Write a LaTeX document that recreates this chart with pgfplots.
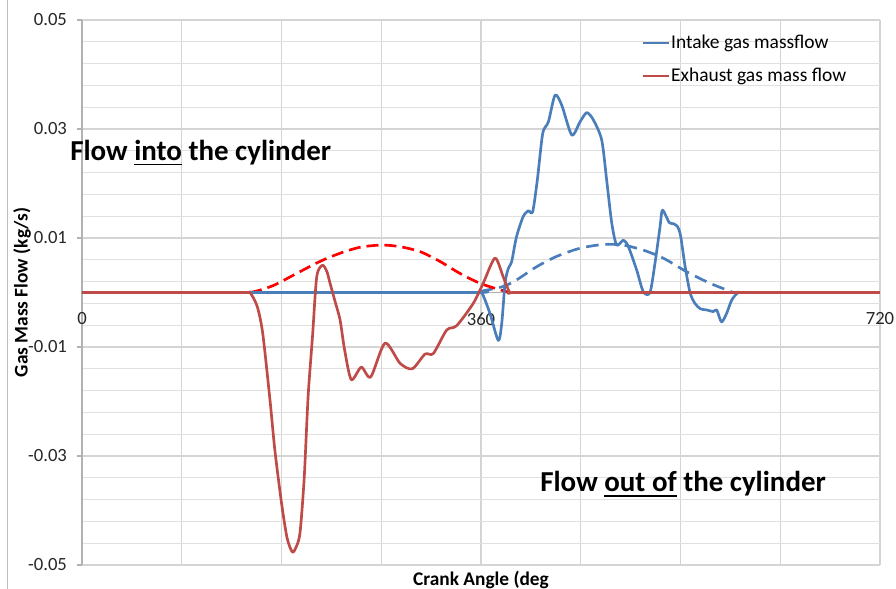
\documentclass[border=0pt]{standalone}
\usepackage{fontspec}
\setmainfont{Carlito}
\usepackage{pgfplots}
\pgfplotsset{compat=1.18}
\definecolor{intake}{HTML}{4A7EBB}
\definecolor{exhaust}{HTML}{BE4B48}
\newcommand\ul[1]{\setbox0\hbox{#1}\rlap{\rule[-3.6pt]{\wd0}{1.3pt}}\box0\relax}

\begin{document}
\begin{tikzpicture}
% picture frame: 896 x 589 px at 0.75pt per px, axis box at (82,20)-(880,565)
\path[use as bounding box] (-61.5pt,-18pt) rectangle (610.5pt,423.75pt);
\draw[black!25, line width=0.75pt] (-55.5pt,-18pt) -- (-55.5pt,423.75pt);
\begin{axis}[
  at={(0pt,0pt)}, anchor=south west,
  scale only axis, width=598.5pt, height=408.75pt,
  xmin=0, xmax=720, ymin=-0.05, ymax=0.05,
  axis x line*=middle, axis y line*=left,
  hide obscured x ticks=false, hide obscured y ticks=false,
  scaled y ticks=false, scaled x ticks=false,
  x axis line style={black!30, line width=0.8pt},
  y axis line style={black!30, line width=1.2pt},
  xtick={0,90,...,720}, xticklabels={0,,,,360,,,,720},
  ytick={-0.05,-0.03,-0.01,0.01,0.03,0.05},
  yticklabels={-0.05,-0.03,-0.01,0.01,0.03,0.05},
  minor ytick={-0.046,-0.042,-0.038,-0.034,-0.026,-0.022,-0.018,-0.014,
    -0.006,-0.002,0.002,0.006,0.014,0.018,0.022,0.026,0.034,0.038,0.042,0.046},
  grid=both,
  major grid style={black!17, line width=0.8pt},
  minor grid style={black!12, line width=0.8pt},
  xtick style={draw=none},
  ytick style={black!30, line width=0.8pt},
  tick align=outside, major tick length=3.75pt, minor tick length=0pt,
  xticklabel style={font=\fontsize{14}{16}\selectfont, text=black!85, anchor=center, yshift=-16pt},
  yticklabel style={font=\fontsize{14}{16}\selectfont, text=black!85, xshift=-4pt},
  xlabel={Crank Angle (deg},
  xlabel style={font=\bfseries\fontsize{14.5}{16}\selectfont, at={(axis description cs:0.5,-0.0275)}, anchor=center},
  ylabel={Gas Mass Flow (kg/s)},
  ylabel style={font=\bfseries\fontsize{14.5}{16}\selectfont, at={(axis description cs:-0.0752,0.5)}, anchor=center},
  legend style={draw=none, fill=none, at={(rel axis cs:0.696,0.980)}, anchor=north west,
    font=\fontsize{14.6}{16}\selectfont, row sep=11pt, nodes={inner sep=1pt}},
  legend cell align=left,
  legend image code/.code={\draw[#1, line width=1.6pt] (0pt,0pt) -- (19.5pt,0pt);},
  clip=false,
]
% dashed reference curves
\addplot[intake, line width=2pt, dash pattern=on 9.5pt off 5pt, smooth, forget plot] coordinates {
  (360,0)(362,0.0003)(380,0.0011)(392,0.0023)(410,0.0047)(428,0.0066)(449,0.0081)
  (470,0.0088)(488,0.0087)(506,0.0078)(524.5,0.0063)(545.6,0.0038)(566.6,0.0017)(587.7,0)
};
\addplot[red, line width=2pt, dash pattern=on 9pt off 4.5pt, smooth, forget plot] coordinates {
  (151.6,0)(160,0.0004)(174,0.0014)(193.7,0.0035)(214.7,0.0057)(232.8,0.0072)(250.8,0.0083)
  (270.4,0.0087)(287,0.0084)(305,0.0075)(323,0.0057)(341,0.0035)(359,0.0017)(377,0.0005)(386,0)
};
% intake
\addplot[intake, line width=2pt, smooth, tension=0.45, line join=round] coordinates {
  (0,0)(180,0)(355,0)(360.6,0)(368,-0.0038)(375.6,-0.0088)(378.7,-0.0057)(381.7,0.0017)
  (384.6,0.0044)(387.7,0.0057)(392,0.0102)(398,0.0139)(402.7,0.0150)(406.6,0.0148)
  (410.8,0.0206)(415.7,0.0292)(420.8,0.0313)(426.8,0.0362)(432.8,0.0344)(441.9,0.0289)
  (449.3,0.0313)(455.4,0.0330)(461.3,0.0317)(468.9,0.0280)(473.4,0.0206)(478,0.0127)
  (482.4,0.0087)(488.5,0.0096)(493,0.0084)(500.5,0.0041)(506.5,0.0001)(512.5,0)
  (517,0.0054)(521.5,0.0120)(523.5,0.0151)(527,0.0140)(530,0.0128)(534,0.0126)
  (537,0.0122)(540,0.0105)(544,0.0050)(548.6,0)(553,-0.0020)(558,-0.0030)(563.6,-0.0032)
  (569.6,-0.0035)(572.7,-0.0032)(577,-0.0054)(581.7,-0.0038)(586.2,-0.0014)(592.2,0)
  (600,0)(720,0)
};
\addlegendentry{Intake gas massflow}
% exhaust
\addplot[exhaust, line width=2pt, smooth, tension=0.45, line join=round] coordinates {
  (0,0)(100,0)(148,0)(151.6,0)(158,-0.0025)(163,-0.0074)(169.6,-0.0197)(174,-0.0289)
  (180,-0.0386)(185,-0.0450)(189.7,-0.0476)(193,-0.0468)(196.7,-0.0441)(200.5,-0.0340)
  (204,-0.0191)(208,-0.0080)(211.8,0.0029)(217,0.0050)(221,0.0038)(223.8,0.0017)
  (228,-0.0014)(232.8,-0.0050)(237,-0.0106)(243,-0.0160)(252,-0.0137)(260.5,-0.0155)
  (273.4,-0.0093)(287,-0.0130)(298,-0.0140)(309.5,-0.0113)(317,-0.0112)(329,-0.0069)
  (338,-0.0061)(353,-0.0020)(362,0.0017)(372.6,0.0063)(380,0.0029)(386,0)(392,0)
  (500,0)(720,0)
};
\addlegendentry{Exhaust gas mass flow}
\node[anchor=base west, inner sep=0pt, font=\bfseries\fontsize{21.7}{24}\selectfont]
  at (axis cs:-10.8,0.0242) {Flow \ul{into} the cylinder};
\node[anchor=base west, inner sep=0pt, font=\bfseries\fontsize{21.7}{24}\selectfont]
  at (axis cs:413.3,-0.0366) {Flow \ul{out of} the cylinder};
\end{axis}
\end{tikzpicture}
\end{document}
